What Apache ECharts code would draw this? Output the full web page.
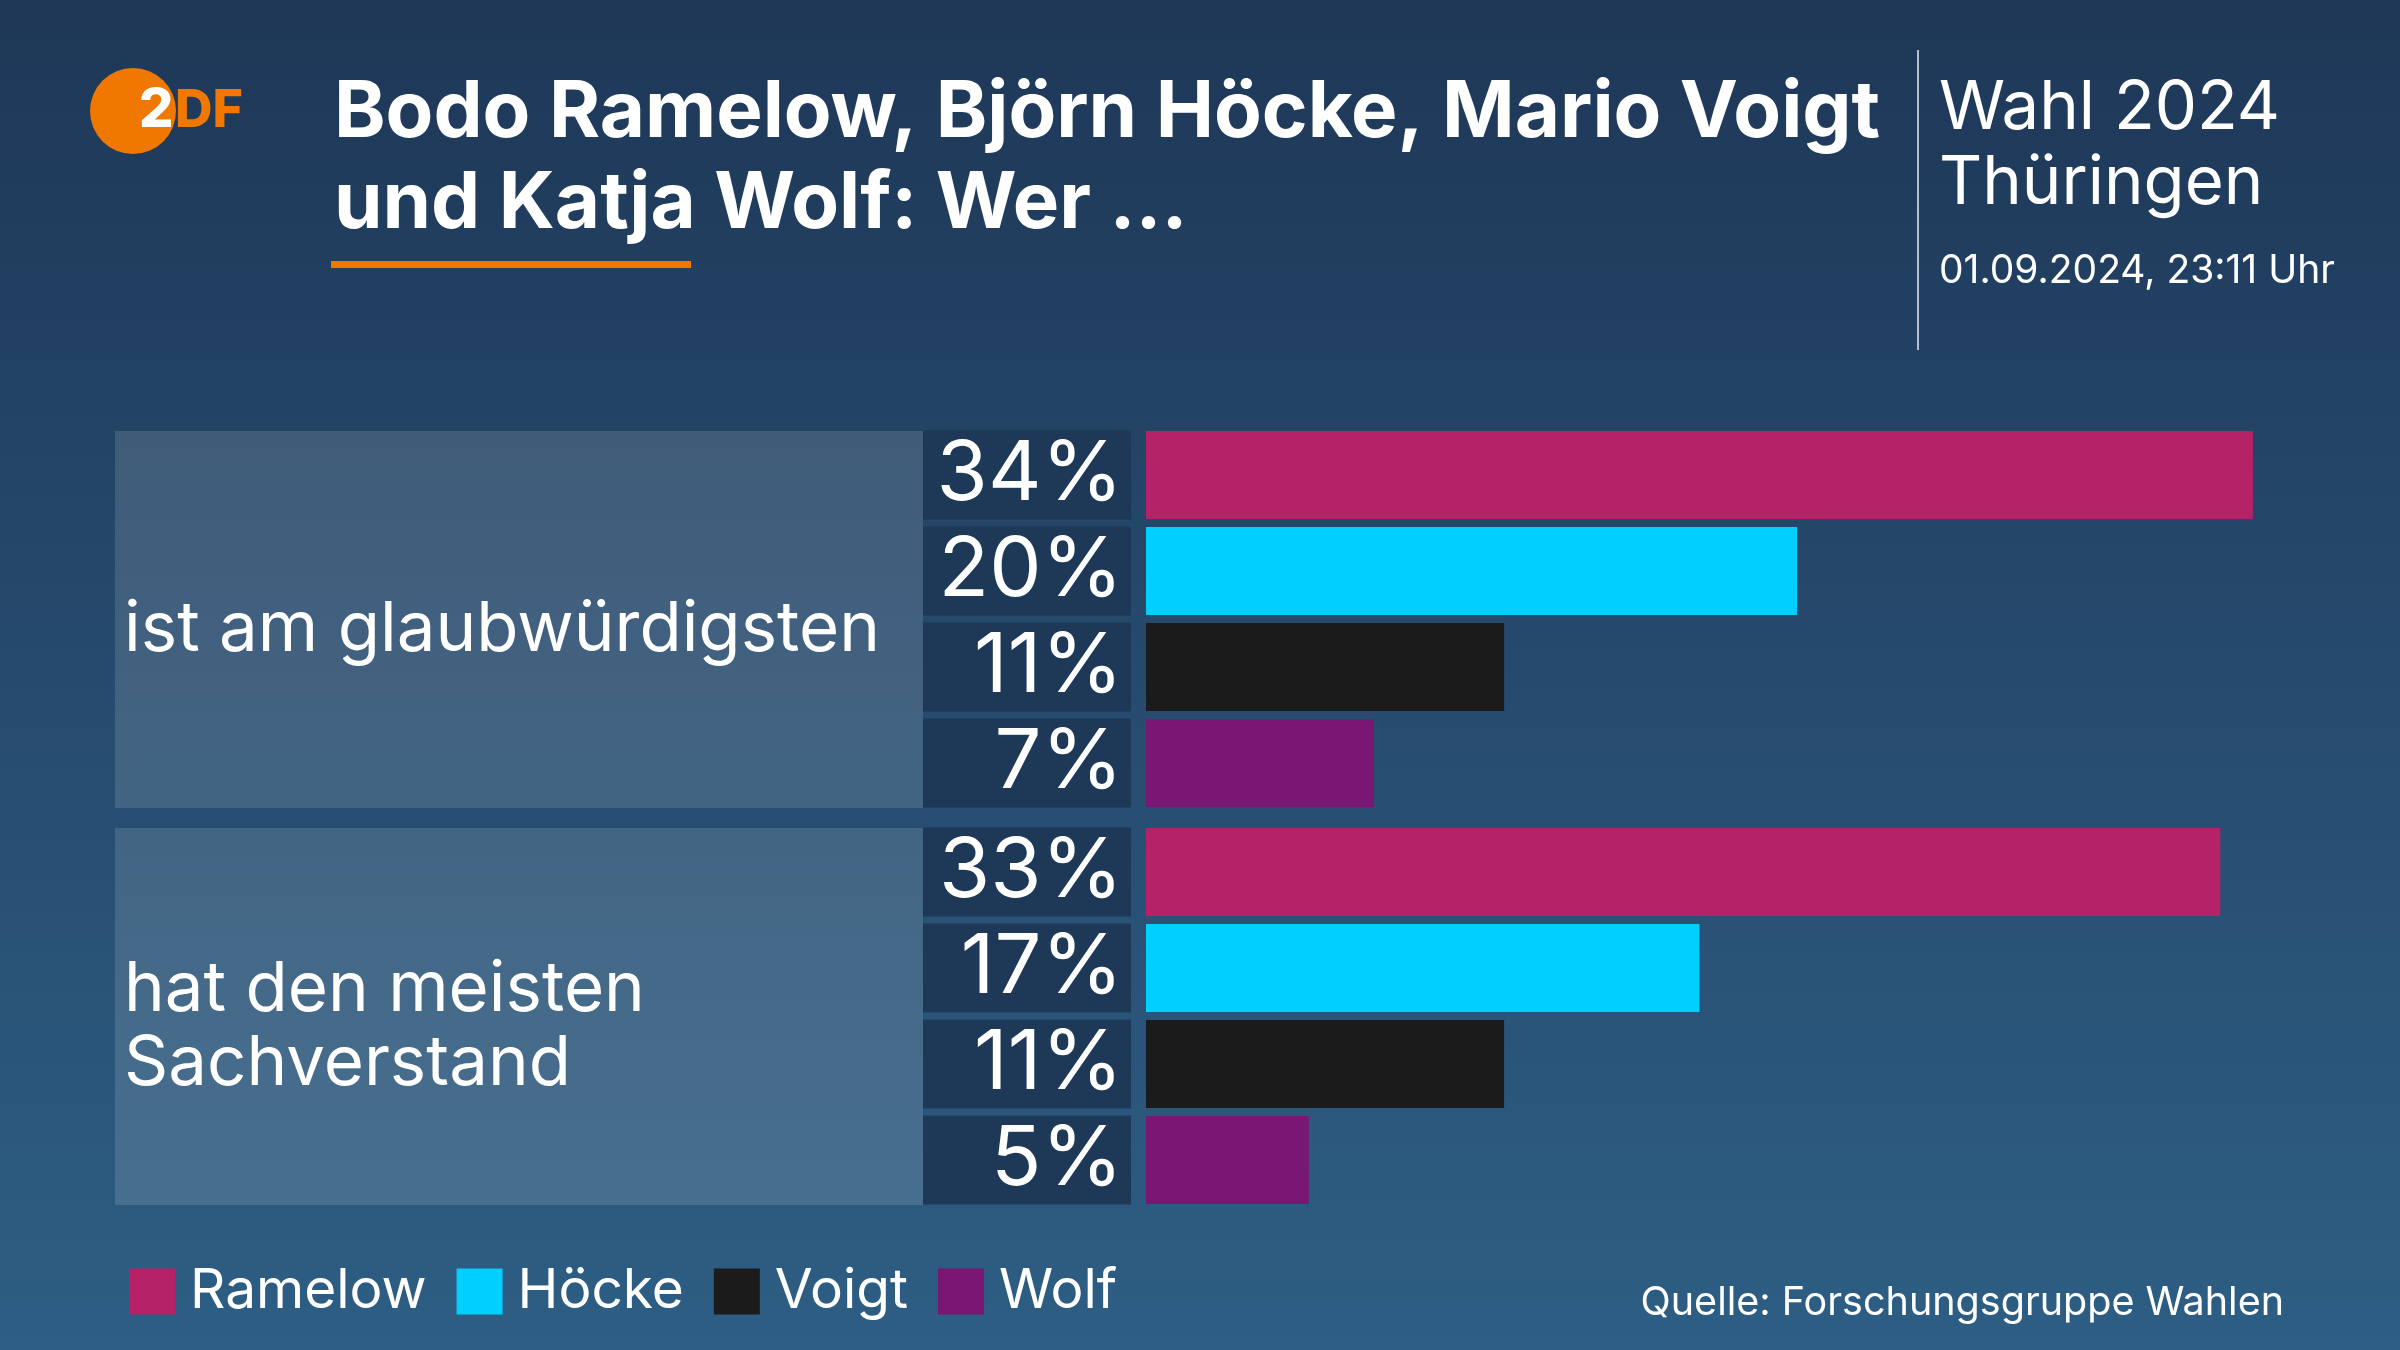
<!DOCTYPE html>
<html>
<head>
<meta charset="utf-8">
<script src="https://cdn.jsdelivr.net/npm/echarts@6/dist/echarts.min.js"></script>
<style>
  html, body { margin: 0; padding: 0; background: #1f3a5a; }
  #main { width: 2400px; height: 1350px; }
</style>
</head>
<body>
<div id="main"></div>
<script>
  // Daten
  const questions = ['ist am glaubwürdigsten', 'hat den meisten Sachverstand'];
  const candidates = ['Ramelow', 'Höcke', 'Voigt', 'Wolf'];
  const credible = [34, 20, 11, 7];
  const expertise = [33, 17, 11, 5];
  const groups = [credible, expertise];

  const titleLines = ['Bodo Ramelow, Björn Höcke, Mario Voigt', 'und Katja Wolf: Wer ...'];
  const headerLines = ['Wahl 2024', 'Thüringen'];
  const dateText = '01.09.2024, 23:11 Uhr';
  const sourceText = 'Quelle: Forschungsgruppe Wahlen';

  const candidateColors = ['#b52268', '#00d0ff', '#1b1b1b', '#7a1673'];
  const orange = '#f07800';
  const FONT = 'Inter, "Noto Sans", sans-serif';

  const chart = echarts.init(document.getElementById('main'));

  // Balken-Raster: eines pro Frage
  const barGridTops = [427, 824];

  const grids = [{ left: 115, width: 808, top: 421, height: 794 }];
  const xAxes = [{ gridIndex: 0, type: 'value', min: 0, max: 1, show: false }];
  const yAxes = [{ gridIndex: 0, type: 'category', data: questions, inverse: true, show: false }];

  const series = [{
    type: 'bar',
    name: 'panel',
    xAxisIndex: 0,
    yAxisIndex: 0,
    barWidth: 377,
    silent: true,
    data: questions.map(() => 1),
    itemStyle: { color: 'rgba(255,255,255,0.13)' },
    label: {
      show: true,
      position: 'insideLeft',
      distance: 9,
      offset: [0, 11],
      formatter: p => p.name,
      color: '#fff',
      fontFamily: FONT,
      fontSize: 69,
      lineHeight: 74,
      width: 790,
      overflow: 'break'
    }
  }];

  groups.forEach((values, g) => {
    const gi = g + 1;
    grids.push({ left: 1146, width: 1172, top: barGridTops[g], height: 384 });
    xAxes.push({ gridIndex: gi, type: 'value', min: 0, max: 36, show: false });
    yAxes.push({
      gridIndex: gi,
      type: 'category',
      data: candidates,
      inverse: true,
      axisLine: { show: false },
      axisTick: { show: false },
      axisLabel: {
        interval: 0,
        margin: 15,
        formatter: (v, i) => values[i] + '%',
        color: '#fff',
        fontFamily: FONT,
        fontSize: 83,
        align: 'right',
        backgroundColor: '#1d3957',
        width: 200,
        height: 77,
        lineHeight: 77,
        padding: [12, 8, 0, 0]
      }
    });
    candidates.forEach((name, k) => {
      series.push({
        type: 'bar',
        name: name,
        xAxisIndex: gi,
        yAxisIndex: gi,
        barWidth: 88,
        barGap: '-100%',
        silent: true,
        itemStyle: { color: candidateColors[k] },
        data: values.map((v, i) => (i === k ? v : '-'))
      });
    });
  });

  const option = {
    animation: false,
    backgroundColor: new echarts.graphic.LinearGradient(0, 0, 0, 1, [
      { offset: 0, color: '#1e3757' },
      { offset: 1, color: '#2e5e84' }
    ]),
    color: candidateColors,
    grid: grids,
    xAxis: xAxes,
    yAxis: yAxes,
    legend: {
      data: candidates,
      left: 129,
      top: 1264,
      padding: 0,
      icon: 'rect',
      itemWidth: 46,
      itemHeight: 46,
      itemGap: 30,
      selectedMode: false,
      textStyle: {
        color: '#fff',
        fontFamily: FONT,
        fontSize: 55,
        lineHeight: 46,
        padding: [2, 0, 0, 10]
      }
    },
    series: series,
    graphic: [
      // ZDF-Logo
      { type: 'circle', shape: { cx: 133, cy: 111, r: 43 }, style: { fill: orange } },
      { type: 'text', style: { text: '2', x: 139, y: 111, fill: '#fff', fontFamily: FONT, fontWeight: 800, fontSize: 54, verticalAlign: 'middle' } },
      { type: 'text', style: { text: 'DF', x: 175, y: 111, fill: orange, fontFamily: FONT, fontWeight: 800, fontSize: 52, verticalAlign: 'middle' } },
      // Titel
      { type: 'text', style: { text: titleLines[0], x: 334, y: 114, fill: '#fff', fontFamily: FONT, fontWeight: 'bold', fontSize: 78, verticalAlign: 'middle' } },
      { type: 'text', style: { text: titleLines[1], x: 334, y: 205, fill: '#fff', fontFamily: FONT, fontWeight: 'bold', fontSize: 78, verticalAlign: 'middle' } },
      { type: 'rect', shape: { x: 331, y: 261, width: 360, height: 7 }, style: { fill: orange } },
      // Kopf rechts
      { type: 'line', shape: { x1: 1918, y1: 50, x2: 1918, y2: 350 }, style: { stroke: '#b4bfcc', lineWidth: 2 } },
      { type: 'text', style: { text: headerLines[0], x: 1939, y: 109, fill: '#fff', fontFamily: FONT, fontSize: 67, verticalAlign: 'middle' } },
      { type: 'text', style: { text: headerLines[1], x: 1939, y: 184, fill: '#fff', fontFamily: FONT, fontSize: 67, verticalAlign: 'middle' } },
      { type: 'text', style: { text: dateText, x: 1939, y: 271, fill: '#fff', fontFamily: FONT, fontSize: 39, verticalAlign: 'middle' } },
      // Quelle
      { type: 'text', style: { text: sourceText, x: 2284, y: 1303, fill: '#fff', fontFamily: FONT, fontSize: 39.5, align: 'right', verticalAlign: 'middle' } }
    ]
  };

  chart.setOption(option);
</script>
</body>
</html>
